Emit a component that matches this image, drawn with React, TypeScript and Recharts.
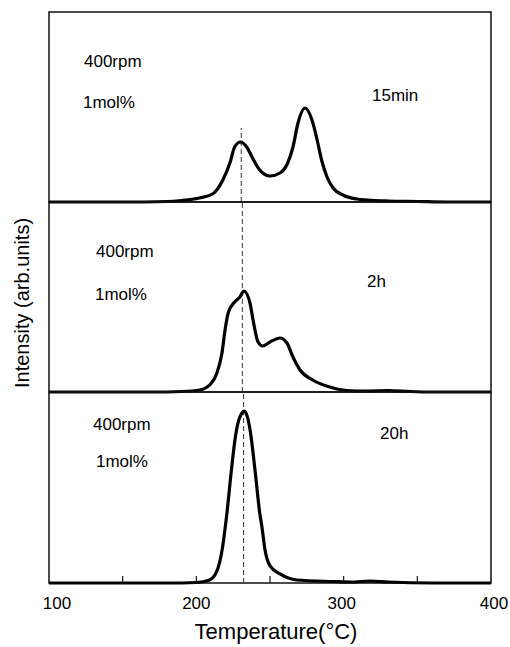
import React from 'react';
import { LineChart, Line, XAxis, YAxis, ReferenceLine, ReferenceArea } from 'recharts';

// ---- data (temperature °C, intensity in arbitrary units) ----
const temp15min = [100, 150, 180, 190, 202, 211, 218, 223, 226, 230, 234.2, 237.8, 243, 250, 256.8, 262, 265.6, 269, 273.8, 278.5, 282, 285, 288.7, 292.8, 299.5, 309, 316, 330, 350, 370, 400];
const int15min = [0, 0, 0.5, 1.5, 4, 8, 22, 40, 55, 60, 55, 45, 32, 26, 29, 39, 55, 79, 94, 82, 62, 42, 25, 14, 7, 3, 2, 1, 0.5, 0, 0];

const temp2h = [100, 170, 190, 202.5, 209, 214, 217.4, 219.5, 221.6, 226, 229.6, 232.3, 236.4, 238.5, 241.9, 245, 250, 256.8, 261.5, 265.6, 270.4, 279, 290.7, 302, 315, 330, 345, 360, 400];
const int2h = [0, 0, 0.5, 2, 7, 19, 39, 62, 79, 90, 95, 101, 89, 72, 50, 46, 50, 54, 49, 35, 22, 12, 5, 1.5, 1, 1.5, 0.5, 0, 0];

const temp20h = [100, 180, 200, 209, 214, 217.4, 220.8, 224, 226, 228.4, 230.5, 232.5, 234.5, 236.4, 240, 243, 244.6, 246.6, 250, 256.8, 268, 293, 305, 318, 330, 361, 400];
const int20h = [0, 0, 0.5, 3, 12, 32, 70, 115, 140, 160, 168, 171, 166, 153, 110, 70, 55, 33, 17, 9, 3, 1.5, 1, 2, 1, 0, 0];

const xTicks = [100, 150, 200, 250, 300, 350, 400];
const xTickLabels = ['100', '', '200', '', '300', '', '400'];

const panelTimes = ['15min', '2h', '20h'];
const speedLabel = '400rpm';
const concLabel = '1mol%';
const dashedT = [230.5, 231.2, 232.1];
const dashTopPanel1 = 74;

const xTitle = 'Temperature(°C)';
const yTitle = 'Intensity (arb.units)';

const FONT = '"Liberation Sans", Arial, Helvetica, sans-serif';

const zip = (t: number[], v: number[]) => t.map((x, i) => ({ t: x, v: v[i] }));
const data15 = zip(temp15min, int15min);
const data2 = zip(temp2h, int2h);
const data20 = zip(temp20h, int20h);

const labelShift: Record<number, number> = { 100: 8, 200: 0, 300: -2, 400: 3 };

const TickMark = (props: any) => {
  const { x, y, payload } = props;
  const idx = xTicks.indexOf(payload.value);
  const label = idx >= 0 ? xTickLabels[idx] : '';
  return (
    <g>
      {payload.value !== 100 && payload.value !== 400 && (
        <line x1={x} y1={y} x2={x} y2={y - 7} stroke="#111" strokeWidth={1.2} />
      )}
      {label && (
        <text x={x + (labelShift[payload.value] || 0)} y={y + 26} textAnchor="middle" fontSize={17} fontFamily={FONT} fill="#000">
          {label}
        </text>
      )}
    </g>
  );
};

type PanelProps = {
  data: { t: number; v: number }[];
  top: number;
  height: number;
  margin: { top: number; right: number; bottom: number; left: number };
  dashX: number;
  dashFull: boolean;
  showAxis: boolean;
};

const Panel = ({ data, top, height, margin, dashX, dashFull, showAxis }: PanelProps) => (
  <div style={{ position: 'absolute', left: 0, top, width: 510, height }}>
    <LineChart width={510} height={height} data={data} margin={margin}>
      <XAxis
        dataKey="t"
        type="number"
        domain={[100, 400]}
        ticks={xTicks}
        interval={0}
        hide={!showAxis}
        height={1}
        axisLine={false}
        tickLine={false}
        tickSize={0}
        tickMargin={0}
        tick={showAxis ? TickMark : false}
      />
      <YAxis type="number" domain={[0, 190]} hide width={0} />
      <ReferenceArea x1={100} x2={400} y1={0} y2={190} fill="none" stroke="#111" strokeWidth={1.5} ifOverflow="visible" />
      {dashFull ? (
        <ReferenceLine x={dashX} stroke="#333" strokeWidth={1} strokeDasharray="5 3" ifOverflow="visible" />
      ) : (
        <ReferenceLine
          segment={[{ x: dashX, y: 0 }, { x: dashX, y: dashTopPanel1 }]}
          stroke="#333"
          strokeWidth={1}
          strokeDasharray="5 3"
          ifOverflow="visible"
        />
      )}
      <Line type="monotone" dataKey="v" stroke="#000" strokeWidth={3.2} dot={false} isAnimationActive={false} />
    </LineChart>
  </div>
);

const annotations = [
  { panel: 0, speed: [84, 67], conc: [83, 108], time: [372, 101] },
  { panel: 1, speed: [96, 257], conc: [95, 300], time: [367, 287] },
  { panel: 2, speed: [93, 430], conc: [96, 467], time: [380, 439] },
];

export default function App() {
  return (
    <div style={{ position: 'absolute', left: 0, top: 0, width: 510, height: 647, background: '#fff', fontFamily: FONT }}>
      <Panel data={data15} top={0} height={205} margin={{ top: 12, right: 19, bottom: 3, left: 49 }} dashX={dashedT[0]} dashFull={false} showAxis={false} />
      <Panel data={data2} top={199} height={196} margin={{ top: 3, right: 19, bottom: 3, left: 49 }} dashX={dashedT[1]} dashFull={true} showAxis={false} />
      <Panel data={data20} top={389} height={258} margin={{ top: 3, right: 19, bottom: 63, left: 49 }} dashX={dashedT[2]} dashFull={true} showAxis={true} />
      <svg width={510} height={647} style={{ position: 'absolute', left: 0, top: 0, pointerEvents: 'none' }}>
        {annotations.map((a) => (
          <g key={a.panel} fontFamily={FONT} fontSize={17} fill="#000">
            <text x={a.speed[0]} y={a.speed[1]}>{speedLabel}</text>
            <text x={a.conc[0]} y={a.conc[1]}>{concLabel}</text>
            <text x={a.time[0]} y={a.time[1]}>{panelTimes[a.panel]}</text>
          </g>
        ))}
        <text x={276} y={639} textAnchor="middle" fontFamily={FONT} fontSize={22} fill="#000">{xTitle}</text>
        <text x={29} y={303} textAnchor="middle" fontFamily={FONT} fontSize={20} fill="#000" transform="rotate(-90 29 303)">{yTitle}</text>
      </svg>
    </div>
  );
}
